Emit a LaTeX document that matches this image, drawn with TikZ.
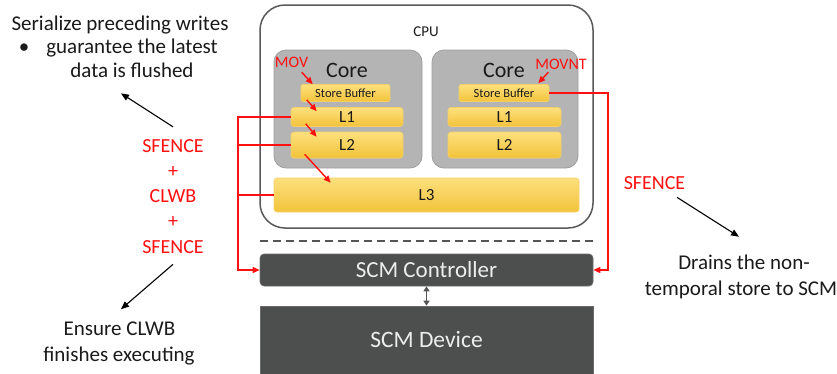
\documentclass[tikz,border=0pt]{standalone}
\usepackage{fontspec}
\setmainfont{Carlito}
\usetikzlibrary{arrows.meta,calc}
\definecolor{cpuline}{HTML}{595959}
\definecolor{coregray}{HTML}{B4B4B4}
\definecolor{coreline}{HTML}{9E9E9E}
\definecolor{ytop}{HTML}{FDE07E}
\definecolor{ybot}{HTML}{F2C33A}
\definecolor{yline}{HTML}{F5D06A}
\definecolor{scm}{HTML}{4D4F4F}
\definecolor{scmline}{HTML}{6A6A6A}
\definecolor{txt}{HTML}{1A1A1A}
\definecolor{rd}{HTML}{FF1010}
\definecolor{dash}{HTML}{555555}
\begin{document}
\begin{tikzpicture}[x=1pt,y=-1pt,
  cpubox/.style={draw=cpuline, line width=1.5pt, fill=white, rounded corners=25pt, inner sep=0pt},
  corebox/.style={draw=coreline, line width=0.8pt, fill=coregray, rounded corners=12pt, inner sep=0pt},
  ybox/.style={draw=yline, line width=0.6pt, top color=ytop, bottom color=ybot, rounded corners=3pt, text=txt, inner sep=0pt},
  scmbox/.style={draw=scmline, line width=0.6pt, fill=scm, text=white!93!black, inner sep=0pt},
  txtnode/.style={inner sep=0pt, text=txt, font=\fontsize{21}{21}\selectfont},
  redlbl/.style={inner sep=0pt, text=rd, font=\fontsize{20}{20}\selectfont},
  redarr/.style={draw=rd, color=rd, line width=1.4pt, -{Triangle[length=7pt,width=6pt]}},
  redline/.style={draw=rd, color=rd, line width=1.4pt},
  blkarr/.style={draw=black, line width=1.1pt, -{Triangle[length=8pt,width=6.5pt]}},
  duparr/.style={draw=dash, line width=1.6pt, {Triangle[length=5pt,width=6pt]}-{Triangle[length=5pt,width=6pt]}}
]
\useasboundingbox (0,0) rectangle (837,373);
\fill[white] (0,0) rectangle (837,373);

% CPU and cores
\node[cpubox, minimum width=333pt, minimum height=223pt] (cpu) at (426.5,116.5) {};
\node[inner sep=0pt, text=txt, font=\fontsize{15}{15}\selectfont, anchor=base] (cpulbl) at (426,36) {CPU};
\node[corebox, minimum width=148pt, minimum height=118pt] (coreL) at (348,109) {};
\node[corebox, minimum width=146pt, minimum height=118pt] (coreR) at (505,109) {};
\node[inner sep=0pt, text=txt, font=\fontsize{22}{22}\selectfont, anchor=base] (coreLlbl) at (347,77) {Core};
\node[inner sep=0pt, text=txt, font=\fontsize{22}{22}\selectfont, anchor=base] (coreRlbl) at (504,77) {Core};

% caches
\node[ybox, minimum width=89pt, minimum height=17pt, rounded corners=2pt, font=\fontsize{12.5}{12.5}\selectfont] (sbL) at (345.5,93) {Store Buffer};
\node[ybox, minimum width=90pt, minimum height=17pt, rounded corners=2pt, font=\fontsize{12.5}{12.5}\selectfont] (sbR) at (504,93) {Store Buffer};
\node[ybox, minimum width=112pt, minimum height=19pt, font=\fontsize{17}{17}\selectfont] (L1L) at (347,117) {L1};
\node[ybox, minimum width=113pt, minimum height=19pt, font=\fontsize{17}{17}\selectfont] (L1R) at (504.5,117) {L1};
\node[ybox, minimum width=112pt, minimum height=26pt, font=\fontsize{17}{17}\selectfont] (L2L) at (347,145) {L2};
\node[ybox, minimum width=113pt, minimum height=26pt, font=\fontsize{17}{17}\selectfont] (L2R) at (504.5,145) {L2};
\node[ybox, minimum width=305pt, minimum height=34pt, font=\fontsize{17}{17}\selectfont] (L3) at (426.5,195) {L3};

% memory side
\draw[draw=dash, line width=1.2pt, dash pattern=on 8pt off 5pt] (260,241) -- (593,241);
\node[scmbox, minimum width=333pt, minimum height=32pt, rounded corners=4pt, font=\fontsize{23}{23}\selectfont] (ctrl) at (426.5,270) {SCM Controller};
\node[scmbox, minimum width=333pt, minimum height=68pt] (dev) at (426.5,340) {};
\node[inner sep=0pt, text=white!93!black, font=\fontsize{23.5}{23.5}\selectfont, anchor=base] (devlbl) at (426.5,347) {SCM Device};
\draw[duparr] (ctrl.south) -- (dev.north);

% red labels inside CPU
\node[inner sep=0pt, text=rd, font=\fontsize{16}{16}\selectfont, anchor=base] (mov) at (291.5,67) {MOV};
\node[inner sep=0pt, text=rd, font=\fontsize{16}{16}\selectfont, anchor=base] (movnt) at (561,69) {MOVNT};

% left text
\node[txtnode, anchor=base] (ser) at (120,30) {Serialize preceding writes};
\node[txtnode, anchor=center] (bul) at (24,49) {•};
\node[txtnode, anchor=base] (gua) at (132,53) {guarantee the latest};
\node[txtnode, anchor=base] (dat) at (132,77) {data is flushed};

\node[redlbl, anchor=base] (sf1) at (173,152) {SFENCE};
\node[redlbl, anchor=center] (p1) at (173,172) {+};
\node[redlbl, anchor=base] (clwb) at (173,202) {CLWB};
\node[redlbl, anchor=center] (p2) at (173,222) {+};
\node[redlbl, anchor=base] (sf2) at (173,253) {SFENCE};

\node[txtnode, anchor=base] (ens) at (119.5,335) {Ensure CLWB};
\node[txtnode, anchor=base] (fin) at (119,361) {finishes executing};

% right text
\node[redlbl, anchor=base] (sf3) at (654.5,189) {SFENCE};
\node[txtnode, anchor=base] (drn) at (744,269) {Drains the non-};
\node[txtnode, anchor=base] (tmp) at (741,295) {temporal store to SCM};

% black arrows
\draw[blkarr] ($(sf1.north)+(0,-12)$) -- ($(dat.south)+(-11,16)$);
\draw[blkarr] ($(sf2.south)+(0,11)$) -- ($(ens.north)+(1.5,-12)$);
\draw[blkarr] ($(sf3.south)+(22.5,8)$) -- ($(drn.north)+(-5,-17.5)$);

% red connectors
\coordinate (lx) at (238,0);
\coordinate (rx) at (608,0);
\draw[redarr] (L1L.west) -- (L1L.west -| lx) |- (ctrl.west);
\draw[redline] (L2L.west) -- (L2L.west -| lx);
\draw[redline] (L3.west) -- (L3.west -| lx);
\draw[redarr] (sbR.east) -- (sbR.east -| rx) |- (ctrl.east);

\draw[redarr] ($(sbL.north west)+(1,-12)$) -- ($(sbL.north west)+(12,0)$);
\draw[redarr] ($(sbL.south west)+(6,-2)$) -- ($(L1L.north west)+(26,4)$);
\draw[redarr] ($(L1L.south west)+(15,-3)$) -- ($(L2L.north west)+(26,5)$);
\draw[redarr] ($(L2L.south west)+(14,-4)$) -- ($(L3.north west)+(57,5)$);
\draw[redarr] ($(sbR.north east)+(-1,-12)$) -- ($(sbR.north east)+(-11,-1)$);
\end{tikzpicture}
\end{document}
